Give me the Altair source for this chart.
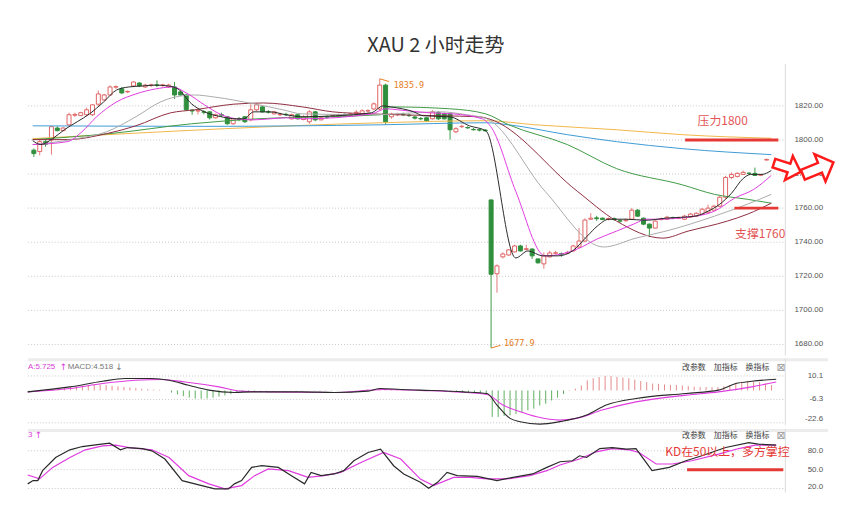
import altair as alt
import pandas as pd

# ---------------- candles (2h bars) ----------------
OPEN = [1794.0, 1793.2, 1799.0, 1800.0, 1807.0, 1805.5, 1808.9, 1814.5, 1814.3, 1814.8,
        1814.8, 1821.0, 1823.5, 1826.4, 1831.0, 1830.0, 1828.2, 1831.7, 1833.4, 1831.1,
        1832.0, 1832.3, 1832.0, 1831.1, 1831.1, 1828.2, 1826.4, 1817.5, 1817.0, 1816.5,
        1816.5, 1813.0, 1814.8, 1813.6, 1809.5, 1812.4, 1813.6, 1811.8, 1817.7, 1819.4,
        1816.5, 1815.3, 1814.8, 1815.0, 1812.4, 1814.8, 1812.0, 1810.7, 1816.5, 1811.8,
        1813.6, 1814.0, 1814.5, 1814.7, 1814.6, 1816.0, 1815.3, 1817.0, 1818.2, 1818.2,
        1832.2, 1813.6, 1814.8, 1815.0, 1814.5, 1813.5, 1812.6, 1813.0, 1812.4, 1816.0,
        1815.3, 1815.3, 1804.8, 1807.8, 1807.3, 1806.2, 1806.0, 1805.8, 1764.8, 1721.5,
        1731.4, 1732.5, 1734.3, 1737.8, 1735.8, 1736.0, 1730.2, 1727.3, 1731.4, 1733.5,
        1733.3, 1733.6, 1734.9, 1737.2, 1740.7, 1753.5, 1754.3, 1754.1, 1753.3, 1753.8,
        1752.6, 1752.6, 1753.5, 1758.8, 1754.1, 1750.6, 1748.3, 1753.3, 1753.5, 1754.3,
        1754.1, 1753.5, 1754.7, 1755.3, 1756.4, 1757.6, 1758.8, 1761.1, 1766.4, 1778.0,
        1778.6, 1779.8, 1780.5, 1780.4, 1779.3, 1788.2]
CLOSE = [1792.0, 1799.0, 1797.5, 1807.8, 1805.5, 1807.0, 1814.8, 1815.0, 1816.0, 1817.7,
         1820.6, 1827.0, 1826.4, 1831.1, 1831.3, 1827.6, 1828.5, 1834.0, 1831.7, 1832.2,
         1832.3, 1832.0, 1832.3, 1832.2, 1826.4, 1826.4, 1817.7, 1817.0, 1817.2, 1816.3,
         1813.0, 1814.8, 1814.6, 1809.5, 1812.4, 1812.2, 1810.7, 1817.7, 1820.6, 1816.5,
         1816.3, 1816.5, 1815.0, 1814.8, 1814.8, 1812.4, 1813.6, 1816.5, 1811.8, 1813.0,
         1813.4, 1814.2, 1814.7, 1814.6, 1815.3, 1816.3, 1817.1, 1817.2, 1821.2, 1832.2,
         1810.7, 1815.3, 1815.0, 1814.8, 1814.3, 1812.8, 1812.4, 1811.3, 1816.5, 1812.4,
         1812.4, 1806.0, 1806.6, 1808.0, 1807.1, 1806.0, 1805.8, 1805.4, 1721.2, 1726.1,
         1733.1, 1735.5, 1737.8, 1734.9, 1736.2, 1732.0, 1727.9, 1732.0, 1733.7, 1733.8,
         1733.0, 1733.8, 1737.8, 1740.7, 1753.0, 1754.1, 1753.8, 1753.3, 1753.9, 1753.4,
         1752.4, 1753.0, 1758.8, 1755.3, 1750.6, 1748.3, 1752.4, 1753.6, 1754.7, 1754.1,
         1754.3, 1755.3, 1756.5, 1757.0, 1759.4, 1760.0, 1761.1, 1766.4, 1778.0, 1779.8,
         1780.4, 1781.0, 1780.4, 1779.2, 1779.5, 1788.6]
HIGH = [1795.0, 1800.0, 1800.0, 1808.0, 1808.0, 1807.5, 1816.0, 1816.0, 1816.5, 1819.0,
        1821.0, 1829.0, 1827.0, 1832.0, 1832.0, 1831.0, 1829.0, 1834.5, 1834.0, 1833.0,
        1833.0, 1835.0, 1833.0, 1833.0, 1834.0, 1829.0, 1827.0, 1818.0, 1818.0, 1817.5,
        1817.0, 1815.5, 1816.0, 1814.0, 1813.0, 1813.5, 1814.0, 1821.0, 1821.5, 1820.0,
        1817.5, 1817.0, 1816.0, 1816.0, 1815.5, 1815.0, 1814.5, 1817.5, 1817.0, 1814.0,
        1814.5, 1815.0, 1815.5, 1815.5, 1816.0, 1817.5, 1818.0, 1818.0, 1822.0, 1835.9,
        1833.0, 1816.0, 1816.0, 1816.0, 1815.5, 1814.0, 1813.5, 1813.5, 1817.5, 1817.0,
        1816.0, 1816.0, 1807.5, 1809.0, 1808.0, 1807.0, 1806.5, 1806.3, 1765.0, 1727.0,
        1734.0, 1736.0, 1738.5, 1738.5, 1738.5, 1736.5, 1730.5, 1734.0, 1735.0, 1735.0,
        1734.0, 1735.0, 1738.5, 1748.3, 1754.0, 1757.0, 1755.5, 1754.5, 1754.5, 1754.5,
        1753.5, 1754.0, 1760.0, 1759.5, 1754.5, 1751.0, 1753.0, 1754.5, 1755.5, 1755.0,
        1755.0, 1756.0, 1757.2, 1757.5, 1760.0, 1762.0, 1762.0, 1767.5, 1779.0, 1781.0,
        1781.0, 1782.0, 1781.0, 1783.8, 1780.0, 1789.0]
LOW = [1790.0, 1791.0, 1796.0, 1791.4, 1805.0, 1805.0, 1808.0, 1813.5, 1814.0, 1814.0,
       1814.0, 1820.0, 1823.0, 1826.0, 1830.0, 1827.0, 1827.5, 1831.0, 1831.0, 1830.5,
       1831.0, 1831.0, 1831.0, 1830.5, 1824.0, 1826.0, 1817.0, 1814.8, 1815.0, 1815.0,
       1812.0, 1812.5, 1813.5, 1809.0, 1809.0, 1811.0, 1810.0, 1811.0, 1817.0, 1816.0,
       1815.5, 1815.0, 1814.0, 1814.0, 1812.0, 1812.0, 1811.5, 1809.5, 1811.0, 1811.5,
       1812.5, 1813.0, 1813.8, 1813.8, 1814.0, 1815.0, 1814.8, 1816.0, 1817.5, 1817.5,
       1808.9, 1812.5, 1814.0, 1814.0, 1813.5, 1812.0, 1811.5, 1810.5, 1812.0, 1811.8,
       1812.0, 1800.2, 1804.0, 1807.0, 1806.5, 1805.5, 1805.0, 1804.8, 1677.9, 1710.4,
       1730.5, 1732.0, 1734.0, 1734.5, 1735.0, 1730.2, 1727.5, 1724.4, 1731.0, 1733.0,
       1731.5, 1733.0, 1734.5, 1736.5, 1740.0, 1753.0, 1752.5, 1753.0, 1752.8, 1752.5,
       1751.5, 1752.0, 1753.0, 1754.8, 1750.0, 1743.0, 1748.0, 1752.8, 1753.0, 1753.5,
       1753.5, 1753.0, 1754.3, 1755.0, 1756.0, 1757.0, 1758.5, 1760.5, 1765.5, 1777.0,
       1778.0, 1779.5, 1779.5, 1779.0, 1778.8, 1788.0]

# ---------------- moving averages (bar index, price) ----------------
BLACK_X = [-0.2, 1.2, 3.2, 5.2, 7.4, 9.5, 11.9, 14.1, 16.2, 18.6, 20.7, 22.9, 24.6, 26.9, 29.1,
           32.0, 34.6, 35.8, 37.5, 40.3, 43.0, 45.8, 51.5, 57.6, 59.6, 60.9, 64.8, 66.4, 70.9, 74.3,
           77.1, 82.2, 84.3, 86.8, 89.4, 91.9, 94.4, 96.1, 98.1, 101.1, 104.4, 107.8, 112.8, 115.0,
           117.0, 119.0, 121.0, 122.3, 124.2, 125.8]
BLACK_Y = [1799.6, 1797.3, 1800.8, 1806.0, 1810.7, 1815.3, 1822.3, 1829.3, 1831.1, 1831.7,
           1832.2, 1831.7, 1829.9, 1821.2, 1816.5, 1813.6, 1812.4, 1812.4, 1816.5, 1816.5,
           1814.8, 1813.6, 1814.2, 1816.0, 1820.0, 1819.4, 1816.5, 1814.2, 1813.6, 1808.3,
           1805.4, 1730.8, 1734.9, 1732.0, 1732.0, 1734.9, 1743.6, 1749.4, 1753.5, 1753.5,
           1752.9, 1754.1, 1755.3, 1758.2, 1762.3, 1768.7, 1777.4, 1779.8, 1779.8, 1782.1]
MAGENTA_X = [-0.2, 5.7, 8.2, 10.7, 14.1, 17.4, 20.7, 23.6, 26.3, 29.1, 32.0, 34.6, 37.5, 40.3,
             43.0, 45.8, 57.6, 60.1, 62.1, 67.6, 71.5, 76.5, 78.1, 82.2, 87.2, 92.7, 96.1, 99.4,
             102.7, 104.4, 106.1, 112.8, 116.1, 119.5, 122.8, 125.8]
MAGENTA_Y = [1797.3, 1799.0, 1804.8, 1813.6, 1822.3, 1827.0, 1829.9, 1831.1, 1827.0, 1820.6,
             1814.8, 1812.4, 1811.8, 1812.4, 1813.0, 1812.4, 1815.3, 1818.3, 1817.7, 1815.9,
             1815.3, 1812.4, 1807.0, 1769.9, 1732.0, 1736.0, 1741.9, 1746.5, 1751.2, 1753.5,
             1753.5, 1755.3, 1758.2, 1765.8, 1771.0, 1779.2]
GREY_X = [-0.2, 7.4, 12.4, 17.4, 21.6, 24.1, 27.4, 30.8, 37.5, 42.5, 45.8, 57.6, 69.3, 73.8,
          77.3, 87.2, 97.2, 102.7, 107.8, 116.1, 121.7, 125.8]
GREY_Y = [1797.3, 1800.8, 1804.8, 1813.6, 1822.3, 1825.2, 1826.4, 1825.2, 1821.2, 1817.7,
          1815.3, 1814.8, 1816.5, 1814.8, 1812.4, 1769.9, 1737.2, 1742.4, 1746.5, 1755.3,
          1762.3, 1768.1]
MAROON_X = [-0.2, 5.7, 12.4, 17.4, 23.3, 27.4, 34.1, 39.2, 45.8, 51.0, 57.6, 69.3, 76.0, 77.6,
            92.7, 99.4, 107.3, 111.6, 118.3, 121.7, 125.8]
MAROON_Y = [1800.2, 1800.2, 1803.7, 1808.3, 1815.9, 1817.7, 1821.0, 1821.7, 1819.4, 1816.5,
            1815.3, 1814.2, 1813.6, 1812.4, 1769.9, 1752.4, 1742.4, 1746.5, 1752.4, 1756.4, 1762.9]
GREEN_X = [-0.2, 12.9, 26.9, 38.0, 59.2, 60.9, 70.9, 77.1, 81.0, 91.0, 99.4, 110.6, 116.1, 121.7, 125.8]
GREEN_Y = [1800.2, 1803.7, 1809.5, 1812.4, 1814.8, 1819.4, 1818.3, 1815.3, 1808.9, 1797.3,
           1783.2, 1773.7, 1768.1, 1765.2, 1762.9]
BLUE_X = [-0.2, 29.1, 59.2, 77.1, 81.0, 91.0, 99.4, 110.6, 125.8]
BLUE_Y = [1808.3, 1808.0, 1808.9, 1810.1, 1808.9, 1803.1, 1799.0, 1794.9, 1791.4]
YELLOW_X = [-0.2, 15.7, 32.5, 59.2, 77.1, 85.5, 99.4, 110.6, 125.8]
YELLOW_Y = [1800.8, 1803.7, 1806.6, 1810.1, 1811.3, 1808.9, 1806.0, 1803.1, 1801.0]

# ---------------- MACD ----------------
MACD_HIST = [-0.2, 0.1, 0.3, 0.7, 1.0, 1.3, 2.0, 2.4, 2.8, 3.3,
             3.8, 4.0, 4.0, 3.7, 3.2, 2.8, 2.4, 2.0, 1.6, 1.2,
             0.9, 0.6, 0.4, 0.1, -1.5, -2.8, -4.0, -5.0, -5.6, -5.8,
             -5.6, -5.0, -4.3, -3.5, -2.6, -1.8, -1.0, -0.5, -0.3, -0.2,
             -0.2, -0.1, 0.0, 0.1, -0.1, -0.2, -0.2, -0.1, -0.2, -0.3,
             -0.3, -0.2, -0.1, 0.0, 0.1, 0.2, 0.3, 0.5, 0.8, 1.4,
             1.0, 0.8, 0.6, 0.5, 0.3, 0.2, 0.0, -0.2, -0.3, -0.4,
             -0.6, -1.0, -1.2, -1.4, -1.6, -1.8, -2.0, -2.2, -18.5, -18.5,
             -17.8, -17.4, -16.5, -15.0, -13.9, -12.7, -10.5, -9.3, -7.0, -5.0,
             -2.5, 0.3, 1.2, 3.5, 7.0, 8.5, 9.3, 10.0, 10.0, 9.5,
             9.0, 8.5, 7.6, 6.6, 5.8, 4.8, 4.6, 4.2, 3.9, 3.9,
             3.5, 3.0, 2.6, 2.3, 2.3, 2.3, 2.3, 3.0, 3.8, 5.3,
             6.0, 6.3, 6.0, 5.8, 4.8, 3.8]
DIF_X = [-0.2, 6.9, 12.4, 16.2, 20.7, 23.6, 26.9, 30.3, 34.6, 37.5, 45.8, 51.4, 57.1, 59.2, 62.6,
         65.9, 73.1, 77.1, 78.8, 81.0, 82.7, 86.0, 89.4, 93.9, 97.2, 102.2, 110.6, 116.1, 119.0,
         121.7, 125.8]
DIF_Y = [-1.0, 2.5, 6.4, 8.3, 8.3, 7.1, 3.6, 0.2, -1.4, -1.0, -1.0, -1.4, -0.5, 1.35, 0.7,
         0.2, -1.0, -2.1, -10.2, -19.5, -21.8, -23.5, -21.8, -17.2, -10.2, -5.6, -2.1, 0.2, 4.8,
         6.4, 7.8]
DEA_X = [-0.2, 6.9, 12.4, 17.9, 22.4, 26.3, 32.0, 35.8, 40.3, 51.4, 59.7, 65.9, 77.1, 79.8, 82.7,
         85.5, 89.4, 92.2, 96.5, 102.2, 110.6, 116.1, 121.7, 125.8]
DEA_Y = [-1.0, 1.35, 4.8, 7.1, 7.6, 5.9, 2.5, -0.5, -1.0, -1.4, 0.7, 0.0, -2.8, -10.2, -14.9,
         -18.4, -20.7, -19.5, -13.7, -8.0, -3.3, -1.0, 2.5, 5.9]

# ---------------- KD ----------------
K_X = [-0.2, 0.7, 1.5, 2.3, 4.5, 6.9, 9.0, 11.2, 13.6, 15.4, 16.6, 19.1, 20.7, 22.9, 25.8,
       29.1, 31.3, 33.6, 34.6, 35.8, 37.5, 39.2, 42.0, 44.2, 46.4, 47.5, 49.2, 51.4, 53.0, 54.7,
       57.1, 59.2, 61.4, 63.1, 65.9, 67.3, 68.8, 70.4, 72.1, 75.5, 78.8, 81.5, 84.8, 87.2, 89.4,
       91.5, 92.7, 93.9, 96.1, 98.2, 100.6, 102.2, 103.9, 104.9, 107.8, 110.6, 113.3, 117.3,
       121.2, 122.8, 125.8]
K_Y = [27.4, 32.6, 32.6, 48.4, 69.4, 81.6, 86.8, 89.5, 92.2, 81.6, 85.2, 83.6, 80.0, 66.9, 32.6,
       24.7, 19.5, 19.5, 27.4, 32.6, 53.6, 56.3, 53.6, 40.5, 27.4, 45.7, 40.5, 43.2, 48.4, 64.2,
       77.3, 82.7, 56.3, 43.2, 30.0, 20.4, 29.9, 45.7, 40.5, 39.4, 32.6, 37.8, 43.2, 53.6, 62.6,
       64.2, 72.1, 69.4, 83.6, 85.2, 82.7, 83.6, 61.5, 48.4, 53.6, 64.2, 72.1, 85.2, 93.1, 90.6,
       89.0]
D_X = [-0.2, 1.8, 4.0, 6.9, 9.5, 12.4, 14.6, 16.9, 20.7, 23.6, 26.9, 30.3, 33.0, 35.8, 38.0,
       40.3, 43.7, 47.0, 49.7, 52.5, 55.9, 59.7, 62.6, 65.9, 68.1, 71.5, 74.3, 77.1, 80.5, 84.3,
       87.2, 89.4, 92.7, 95.5, 98.2, 101.1, 102.7, 105.6, 108.3, 111.6, 116.1, 119.5, 122.3, 125.8]
D_Y = [41.6, 35.3, 53.6, 69.4, 81.6, 87.9, 89.0, 85.2, 81.6, 69.4, 40.5, 27.4, 19.5, 24.7, 40.5,
       51.1, 48.4, 37.8, 40.5, 45.7, 61.5, 77.3, 66.9, 35.0, 24.7, 37.8, 37.8, 35.3, 35.3, 40.5,
       48.4, 57.4, 66.9, 78.4, 83.6, 81.6, 77.3, 59.0, 59.0, 64.2, 74.8, 83.6, 89.0, 89.0]

MAIN_TICKS = [1680, 1700, 1720, 1740, 1760, 1780, 1800, 1820]
MACD_TICKS = [10.1, -6.3, -22.6]
KD_TICKS = [80, 50, 20]

RESIST = 1800
SUPPORT = 1760
KD_LEVEL = 50

# ---------------- layout constants ----------------
W = 762
H_MAIN, H_MACD, H_KD = 293, 67, 64
XS = alt.Scale(domain=[-0.17, 127.34], nice=False, zero=False)
YS_MAIN = alt.Scale(domain=[1673.6, 1844.5], nice=False, zero=False)
YS_MACD = alt.Scale(domain=[-24.1, 22.4], nice=False, zero=False)
YS_KD = alt.Scale(domain=[13.6, 114.8], nice=False, zero=False)
CJK = "Noto Sans CJK SC"
RED = "#e53935"
one = pd.DataFrame({"k": [0]})


def manual_axis(ticks, scale, height, fmt, last_lift=0):
    tdf = pd.DataFrame({"v": ticks, "t": [fmt % t for t in ticks]})
    grid = alt.Chart(tdf).mark_rule(strokeDash=[1, 2], color="#c9c9c9", strokeWidth=1).encode(
        x=alt.value(0), x2=alt.value(W), y=alt.Y("v:Q", scale=scale, axis=None))
    upper = alt.Chart(tdf.iloc[:-1]).mark_text(align="right", baseline="middle", fontSize=8,
                                               font="Liberation Sans", color="#555555").encode(
        x=alt.value(W + 38), y=alt.Y("v:Q", scale=scale, axis=None), text="t:N")
    lowest = alt.Chart(tdf.iloc[-1:]).mark_text(align="right", baseline="middle", fontSize=8,
                                                dy=-last_lift, font="Liberation Sans",
                                                color="#555555").encode(
        x=alt.value(W + 38), y=alt.Y("v:Q", scale=scale, axis=None), text="t:N")
    dom = alt.Chart(one).mark_rule(color="#dcdcdc", strokeWidth=1).encode(
        x=alt.value(W), y=alt.value(0), y2=alt.value(height))
    return [grid, upper, lowest, dom]


n = len(OPEN)
cdf = pd.DataFrame({"i": list(range(n)), "o": OPEN, "c": CLOSE, "h": HIGH, "l": LOW})
cdf["dir"] = ["up" if c >= o else "down" for o, c in zip(OPEN, CLOSE)]
X = alt.X("i:Q", scale=XS, axis=None)

wicks = alt.Chart(cdf).mark_rule(strokeWidth=1).encode(
    x=X,
    y=alt.Y("l:Q", scale=YS_MAIN, axis=None),
    y2="h:Q",
    color=alt.Color("dir:N", scale=alt.Scale(domain=["up", "down"], range=["#e27b7b", "#3d9a48"]), legend=None),
)
bodies = alt.Chart(cdf).mark_bar(size=4, strokeWidth=1).encode(
    x=X,
    y=alt.Y("o:Q", scale=YS_MAIN, axis=None),
    y2="c:Q",
    fill=alt.Fill("dir:N", scale=alt.Scale(domain=["up", "down"], range=["#ffffff", "#2f8f3c"]), legend=None),
    stroke=alt.Stroke("dir:N", scale=alt.Scale(domain=["up", "down"], range=["#e06464", "#2f8f3c"]), legend=None),
)


def series_line(xs, ys, color, scale, width=1.0, interp="monotone"):
    df = pd.DataFrame({"i": xs, "v": ys})
    return alt.Chart(df).mark_line(color=color, strokeWidth=width, interpolate=interp).encode(
        x=alt.X("i:Q", scale=XS, axis=None), y=alt.Y("v:Q", scale=scale, axis=None))


ma_layers = [
    series_line(YELLOW_X, YELLOW_Y, "#f2b64a", YS_MAIN),
    series_line(BLUE_X, BLUE_Y, "#3d9bd6", YS_MAIN),
    series_line(GREEN_X, GREEN_Y, "#3f9a45", YS_MAIN),
    series_line(MAROON_X, MAROON_Y, "#8e2d3f", YS_MAIN),
    series_line(GREY_X, GREY_Y, "#aaaaaa", YS_MAIN),
    series_line(MAGENTA_X, MAGENTA_Y, "#e03be0", YS_MAIN),
    series_line(BLACK_X, BLACK_Y, "#2a2a2a", YS_MAIN),
]

levels = pd.DataFrame({"a": [111.1, 119.5], "b": [127.0, 127.0], "v": [RESIST, SUPPORT]})
level_rules = alt.Chart(levels).mark_rule(color=RED, strokeWidth=3).encode(
    x=alt.X("a:Q", scale=XS, axis=None), x2="b:Q", y=alt.Y("v:Q", scale=YS_MAIN, axis=None))

notes = pd.DataFrame({"i": [117.5, 123.9], "v": [1811.3, 1745.1],
                      "t": ["压力%d" % RESIST, "支撑%d" % SUPPORT]})
note_text = alt.Chart(notes).mark_text(font=CJK, fontSize=12, color="#e25555").encode(
    x=alt.X("i:Q", scale=XS, axis=None), y=alt.Y("v:Q", scale=YS_MAIN, axis=None), text="t:N")

hi_i = HIGH.index(max(HIGH))
lo_i = LOW.index(min(LOW))
ext = pd.DataFrame({"i": [hi_i, lo_i], "i2": [hi_i + 1.6, lo_i + 1.6],
                    "v": [HIGH[hi_i], LOW[lo_i]], "v2": [HIGH[hi_i] - 1.6, LOW[lo_i] + 1.6],
                    "t": ["%.1f" % HIGH[hi_i], "%.1f" % LOW[lo_i]]})
ext_rule = alt.Chart(ext).mark_rule(color="#e67e22", strokeWidth=1).encode(
    x=alt.X("i:Q", scale=XS, axis=None), x2="i2:Q", y=alt.Y("v:Q", scale=YS_MAIN, axis=None), y2="v2:Q")
ext_hi = alt.Chart(ext.iloc[[0]]).mark_text(align="left", dx=14, dy=6, fontSize=8.5,
                                            font="DejaVu Sans Mono", color="#e67e22").encode(
    x=alt.X("i:Q", scale=XS, axis=None), y=alt.Y("v:Q", scale=YS_MAIN, axis=None), text="t:N")
ext_lo = alt.Chart(ext.iloc[[1]]).mark_text(align="left", dx=13, dy=-5, fontSize=8.5,
                                            font="DejaVu Sans Mono", color="#e67e22").encode(
    x=alt.X("i:Q", scale=XS, axis=None), y=alt.Y("v:Q", scale=YS_MAIN, axis=None), text="t:N")

ARROW = "M-1,-0.32 L0.12,-0.32 L0.12,-0.9 L1,0 L0.12,0.9 L0.12,0.32 L-1,0.32 Z"
arrow1 = alt.Chart(one).mark_point(shape=ARROW, size=800, angle=18, filled=True, fill="#ffffff",
                                   stroke="#ff1a1a", strokeWidth=2.5, opacity=1).encode(
    x=alt.value(764), y=alt.value(104))
arrow2 = alt.Chart(one).mark_point(shape=ARROW, size=1100, angle=338, filled=True, fill="#ffffff",
                                   stroke="#ff1a1a", strokeWidth=2.5, opacity=1).encode(
    x=alt.value(795), y=alt.value(105))

main = alt.layer(*manual_axis(MAIN_TICKS, YS_MAIN, H_MAIN, "%.2f"), wicks, bodies, *ma_layers,
                 level_rules, note_text, ext_rule, ext_hi, ext_lo,
                 arrow1, arrow2).properties(width=W, height=H_MAIN)


def label(txt, x, y, color, size=8, font="Liberation Sans", align="left"):
    return alt.Chart(pd.DataFrame({"t": [txt]})).mark_text(
        align=align, baseline="middle", fontSize=size, font=font, color=color).encode(
        x=alt.value(x), y=alt.value(y), text="t:N")


def panel_header(y):
    return [
        label("改参数", 658, y, "#444444", font=CJK),
        label("加指标", 690, y, "#444444", font=CJK),
        label("换指标", 722, y, "#444444", font=CJK),
        label("⊠", 753, y, "#9a9a9a", size=11, font="DejaVu Sans"),
    ]


def separator():
    return alt.Chart(one).mark_rule(color="#ececec", strokeWidth=3).encode(
        x=alt.value(0), x2=alt.value(805), y=alt.value(1.5))


hdf = pd.DataFrame({"i": list(range(n)), "h": MACD_HIST, "z": [0.0] * n})
hist = alt.Chart(hdf).mark_rule(strokeWidth=1).encode(
    x=X,
    y=alt.Y("h:Q", scale=YS_MACD, axis=None),
    y2="z:Q",
    color=alt.condition("datum.h >= 0", alt.value("#e48a8a"), alt.value("#5fae5f")),
)
macd = alt.layer(
    separator(), *manual_axis(MACD_TICKS, YS_MACD, H_MACD, "%.1f", last_lift=4), hist,
    series_line(DEA_X, DEA_Y, "#e03be0", YS_MACD, 1.1),
    series_line(DIF_X, DIF_Y, "#2a2a2a", YS_MACD, 1.1),
    label("A:5.725", 0, 9, "#d63cd6"),
    label("↑", 32, 9, "#d63cd6", size=9, font="DejaVu Sans"),
    label("MACD:4.518", 40, 9, "#777777"),
    label("↓", 88, 9, "#777777", size=9, font="DejaVu Sans"),
    *panel_header(10),
).properties(width=W, height=H_MACD)

kd_level = alt.Chart(pd.DataFrame({"a": [110.8], "b": [127.0], "v": [KD_LEVEL]})).mark_rule(
    color=RED, strokeWidth=3).encode(x=alt.X("a:Q", scale=XS, axis=None), x2="b:Q",
                                     y=alt.Y("v:Q", scale=YS_KD, axis=None))
kd_note = alt.Chart(pd.DataFrame({"i": [117.6], "v": [77.3], "t": ["KD在50以上，多方掌控"]})).mark_text(
    font=CJK, fontSize=12, color="#e53935").encode(
    x=alt.X("i:Q", scale=XS, axis=None), y=alt.Y("v:Q", scale=YS_KD, axis=None), text="t:N")
kd = alt.layer(
    separator(), *manual_axis(KD_TICKS, YS_KD, H_KD, "%.1f", last_lift=2),
    series_line(D_X, D_Y, "#e03be0", YS_KD, 1.2, "linear"),
    series_line(K_X, K_Y, "#2a2a2a", YS_KD, 1.2, "linear"),
    kd_level, kd_note,
    label("3", 0, 6, "#d63cd6"),
    label("↑", 7, 6, "#d63cd6", size=9, font="DejaVu Sans"),
    *panel_header(7),
).properties(width=W, height=H_KD)

chart = alt.vconcat(main, macd, kd, spacing=1).properties(
    title=alt.TitleParams("XAU 2 小时走势", font=CJK, fontSize=20, fontWeight="normal",
                          color="#333333", anchor="middle", offset=8, dx=4),
    padding={"left": 17, "top": 26, "right": 0, "bottom": 0},
).configure_view(stroke=None)

chart.save("out.html", embed_options={"renderer": "svg", "actions": False})
